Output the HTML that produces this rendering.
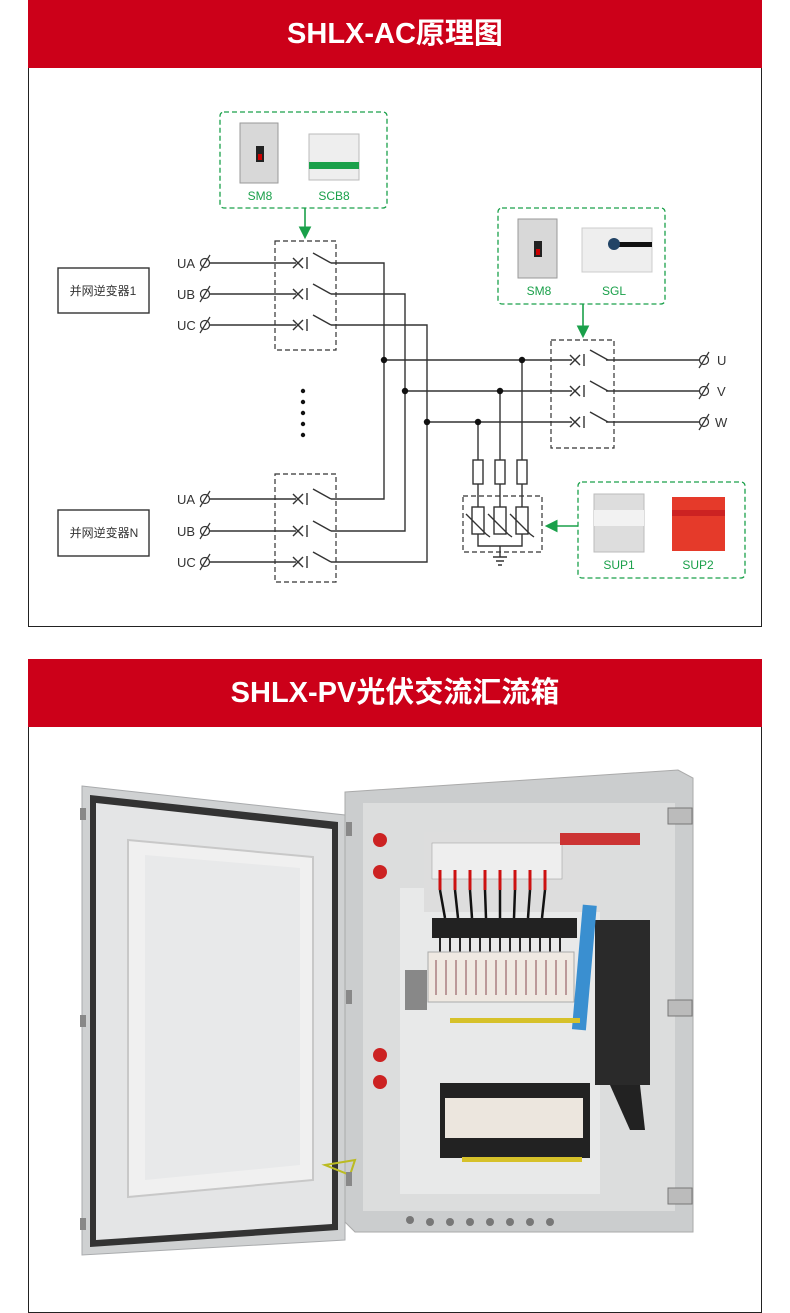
<!DOCTYPE html>
<html><head><meta charset="utf-8"><style>
body{margin:0;width:790px;height:1313px;background:#fff;position:relative;overflow:hidden;font-family:"Liberation Sans","Noto Sans CJK SC",sans-serif}
.hd{position:absolute;left:28px;width:734px;height:68px;background:#cc0019;color:#fff;font-weight:bold;font-size:29px;text-align:center;line-height:68px}
.bx{position:absolute;left:28px;width:732px;border:1px solid #222;border-top:none}
</style></head><body>
<div class="hd" style="top:0">SHLX-AC原理图</div>
<div class="bx" style="top:68px;height:558px"></div>
<div class="hd" style="top:659px">SHLX-PV光伏交流汇流箱</div>
<div class="bx" style="top:727px;height:585px"></div>
<svg width="790" height="1313" style="position:absolute;left:0;top:0" font-family="Liberation Sans, Noto Sans CJK SC, sans-serif">
<defs>
<marker id="ag" markerWidth="8" markerHeight="8" refX="6" refY="4" orient="auto"><path d="M0,0L8,4L0,8z" fill="#1aa04a"/></marker>
<g id="ph"><circle cx="0" cy="0" r="4.5" fill="none" stroke="#333" stroke-width="1.2"/><line x1="-5" y1="8" x2="5" y2="-8" stroke="#333" stroke-width="1.2"/></g>
<g id="sw1"><line x1="293" y1="-5" x2="303" y2="5" stroke="#333" stroke-width="1.4"/><line x1="293" y1="5" x2="303" y2="-5" stroke="#333" stroke-width="1.4"/><line x1="307" y1="-6" x2="307" y2="6" stroke="#333" stroke-width="1.4"/><line x1="313" y1="-10" x2="331" y2="0" stroke="#333" stroke-width="1.4"/></g>
</defs>
<g stroke="#1aa04a" stroke-width="1.3" fill="none" stroke-dasharray="5,3">
<rect x="220" y="112" width="167" height="96" rx="4"/>
<rect x="498" y="208" width="167" height="96" rx="4"/>
<rect x="578" y="482" width="167" height="96" rx="4"/>
</g>
<g stroke="#1aa04a" stroke-width="1.6">
<line x1="305" y1="208" x2="305" y2="236" marker-end="url(#ag)"/>
<line x1="583" y1="304" x2="583" y2="335" marker-end="url(#ag)"/>
<line x1="578" y1="526" x2="548" y2="526" marker-end="url(#ag)"/>
</g>
<g stroke="#333" stroke-width="1.2" fill="none" stroke-dasharray="5,3">
<rect x="275" y="241" width="61" height="109"/>
<rect x="275" y="474" width="61" height="108"/>
<rect x="551" y="340" width="63" height="108"/>
<rect x="463" y="496" width="79" height="56"/>
</g>
<g stroke="#333" stroke-width="1.4" fill="none">
<rect x="58" y="268" width="91" height="45"/>
<rect x="58" y="510" width="91" height="46"/>
<path d="M209,263H296M331,263H384V499H331M209,499H296"/>
<path d="M209,294H296M331,294H405V531H331M209,531H296"/>
<path d="M209,325H296M331,325H427V562H331M209,562H296"/>
<path d="M384,360H572M405,391H572M427,422H572"/>
<path d="M606,360H700M606,391H700M606,422H700"/>
<path d="M522,360V460M500,391V460M478,422V460"/>
<rect x="473" y="460" width="10" height="24"/><rect x="495" y="460" width="10" height="24"/><rect x="517" y="460" width="10" height="24"/>
<path d="M478,484V507M500,484V507M522,484V507"/>
<rect x="472" y="507" width="12" height="27"/><rect x="494" y="507" width="12" height="27"/><rect x="516" y="507" width="12" height="27"/>
<path d="M466,514L486,534L490,537M488,514L508,534L512,537M510,514L530,534L534,537"/>
<path d="M478,534V546H522V534M500,546V557"/>
<path d="M493,557H507M496,561H504M498,565H502"/>
</g>
<g>
<use href="#ph" x="205" y="263"/><use href="#ph" x="205" y="294"/><use href="#ph" x="205" y="325"/>
<use href="#ph" x="205" y="499"/><use href="#ph" x="205" y="531"/><use href="#ph" x="205" y="562"/>
<use href="#ph" x="704" y="360"/><use href="#ph" x="704" y="391"/><use href="#ph" x="704" y="422"/>
<use href="#sw1" x="0" y="263"/><use href="#sw1" x="0" y="294"/><use href="#sw1" x="0" y="325"/>
<use href="#sw1" x="0" y="499"/><use href="#sw1" x="0" y="531"/><use href="#sw1" x="0" y="562"/>
<use href="#sw1" x="277" y="360"/><use href="#sw1" x="277" y="391"/><use href="#sw1" x="277" y="422"/>
</g>
<g fill="#111">
<circle cx="384" cy="360" r="3.2"/><circle cx="405" cy="391" r="3.2"/><circle cx="427" cy="422" r="3.2"/>
<circle cx="522" cy="360" r="3.2"/><circle cx="500" cy="391" r="3.2"/><circle cx="478" cy="422" r="3.2"/>
<circle cx="303" cy="391" r="2.2"/><circle cx="303" cy="402" r="2.2"/><circle cx="303" cy="413" r="2.2"/><circle cx="303" cy="424" r="2.2"/><circle cx="303" cy="435" r="2.2"/>
</g>
<g font-size="13" fill="#333">
<text x="177" y="268">UA</text><text x="177" y="299">UB</text><text x="177" y="330">UC</text>
<text x="177" y="504">UA</text><text x="177" y="536">UB</text><text x="177" y="567">UC</text>
<text x="717" y="365">U</text><text x="717" y="396">V</text><text x="715" y="427">W</text>
<text x="103" y="295" text-anchor="middle" font-size="12">并网逆变器1</text>
<text x="104" y="537" text-anchor="middle" font-size="12">并网逆变器N</text>
</g>
<g font-size="12" fill="#1aa04a" text-anchor="middle">
<text x="260" y="200">SM8</text><text x="334" y="200">SCB8</text>
<text x="539" y="295">SM8</text><text x="614" y="295">SGL</text>
<text x="619" y="569">SUP1</text><text x="698" y="569">SUP2</text>
</g>
<rect x="240" y="123" width="38" height="60" fill="#d8d8d8" stroke="#999"/><rect x="256" y="146" width="8" height="16" fill="#222"/><rect x="258" y="154" width="4" height="6" fill="#c00"/>
<rect x="309" y="134" width="50" height="46" fill="#eee" stroke="#bbb"/><rect x="309" y="162" width="50" height="7" fill="#1aa04a"/>
<rect x="518" y="219" width="39" height="59" fill="#d8d8d8" stroke="#999"/><rect x="534" y="241" width="8" height="16" fill="#222"/><rect x="536" y="249" width="4" height="6" fill="#c00"/>
<rect x="582" y="228" width="70" height="44" fill="#eee" stroke="#ccc"/><rect x="612" y="242" width="40" height="5" fill="#111"/><circle cx="614" cy="244" r="6" fill="#246"/>
<rect x="594" y="494" width="50" height="58" fill="#ddd" stroke="#bbb"/><rect x="594" y="510" width="50" height="16" fill="#f2f2f2"/>
<rect x="672" y="497" width="53" height="54" fill="#e53a2a"/><rect x="672" y="510" width="53" height="6" fill="#c22"/>
<!-- cabinet photo -->
<path d="M82,786L345,815L345,1240L82,1255Z" fill="#cfd1d2" stroke="#a9abad"/>
<path d="M90,795L338,822L338,1230L90,1247Z" fill="#333"/>
<path d="M96,803L332,829L332,1224L96,1240Z" fill="#e4e5e6"/>
<path d="M128,840L313,857L313,1180L128,1197Z" fill="#f0f0f0" stroke="#c8c8c8" stroke-width="2"/>
<path d="M145,855L300,868L300,1165L145,1180Z" fill="#e8e9ea"/>
<path d="M345,792L678,770L693,778L693,1232L355,1232L345,1222Z" fill="#cbcdce" stroke="#aaa"/>
<rect x="363" y="803" width="312" height="408" fill="#dcdddd"/>
<rect x="400" y="888" width="200" height="306" fill="#e8e9e9"/>
<rect x="424" y="832" width="176" height="80" fill="#ddd"/>
<rect x="432" y="843" width="130" height="36" fill="#eee" stroke="#999" stroke-width=".5"/>
<g stroke="#c11" stroke-width="3"><path d="M440,870V890M455,870V890M470,870V890M485,870V890M500,870V890M515,870V890M530,870V890M545,870V890"/></g>
<g stroke="#111" stroke-width="2.5"><path d="M440,890L445,918M455,890L458,918M470,890L472,918M485,890L486,918M500,890L500,918M515,890L514,918M530,890L528,918M545,890L542,918"/></g>
<path d="M560,833H640V845H560Z" fill="#c33"/>
<rect x="432" y="918" width="145" height="20" fill="#222"/>
<g stroke="#222" stroke-width="2"><path d="M440,938V955M450,938V955M460,938V955M470,938V955M480,938V955M490,938V955M500,938V955M510,938V955M520,938V955M530,938V955M540,938V955M550,938V955M560,938V955"/></g>
<rect x="428" y="952" width="146" height="50" fill="#efe9e2" stroke="#aaa"/>
<g stroke="#b99" stroke-width="2"><path d="M436,960V995M446,960V995M456,960V995M466,960V995M476,960V995M486,960V995M496,960V995M506,960V995M516,960V995M526,960V995M536,960V995M546,960V995M556,960V995M566,960V995"/></g>
<rect x="405" y="970" width="22" height="40" fill="#888"/>
<rect x="595" y="920" width="55" height="165" fill="#2a2a2a"/>
<path d="M610,1085L630,1130L645,1130L640,1085Z" fill="#222"/>
<rect x="578" y="905" width="14" height="125" fill="#3a8fd0" transform="rotate(5 585 960)"/>
<rect x="440" y="1083" width="150" height="75" fill="#222"/>
<rect x="445" y="1098" width="138" height="40" fill="#ece6de"/>
<rect x="462" y="1157" width="120" height="5" fill="#d6c12a"/>
<rect x="450" y="1018" width="130" height="5" fill="#d6c12a"/>
<g fill="#c22"><circle cx="380" cy="840" r="7"/><circle cx="380" cy="872" r="7"/><circle cx="380" cy="1055" r="7"/><circle cx="380" cy="1082" r="7"/></g>
<path d="M325,1165L355,1160L350,1175Z" fill="none" stroke="#bb2" stroke-width="2"/>
<g fill="#bbb" stroke="#777"><rect x="668" y="808" width="24" height="16"/><rect x="668" y="1000" width="24" height="16"/><rect x="668" y="1188" width="24" height="16"/></g>
<g fill="#888"><rect x="80" y="808" width="6" height="12"/><rect x="80" y="1015" width="6" height="12"/><rect x="80" y="1218" width="6" height="12"/><rect x="346" y="822" width="6" height="14"/><rect x="346" y="990" width="6" height="14"/><rect x="346" y="1172" width="6" height="14"/></g>
<g fill="#777"><circle cx="410" cy="1220" r="4"/><circle cx="430" cy="1222" r="4"/><circle cx="450" cy="1222" r="4"/><circle cx="470" cy="1222" r="4"/><circle cx="490" cy="1222" r="4"/><circle cx="510" cy="1222" r="4"/><circle cx="530" cy="1222" r="4"/><circle cx="550" cy="1222" r="4"/></g>
</svg>
</body></html>
